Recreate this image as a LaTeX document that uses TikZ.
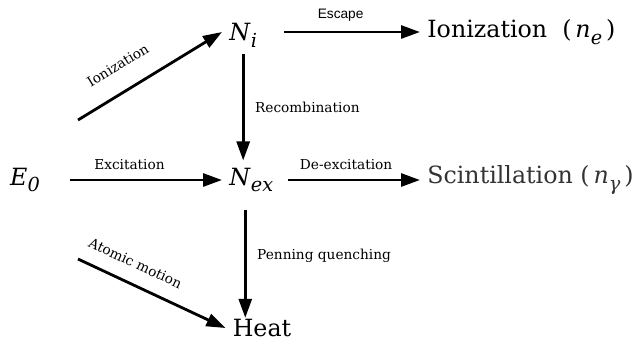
\documentclass[tikz,border=0pt]{standalone}
\usepackage{fontspec}
\setmainfont{DejaVu Serif}
\newfontfamily\escfont{Liberation Sans}
\usetikzlibrary{positioning, arrows.meta}

\newcommand{\qsym}[2]{\textit{#1}\raisebox{-0.55ex}{\fontsize{11}{13}\selectfont\textit{#2}}}

\begin{document}
\begin{tikzpicture}[x=0.02cm, y=-0.02cm,
  state/.style={inner sep=4pt, font=\fontsize{13.5}{16}\selectfont},
  flow/.style={-{Triangle[length=0.38cm, width=0.26cm]}, line width=1.6pt},
  lbl/.style={font=\fontsize{7.8}{9}\selectfont, inner sep=2pt}]
  \useasboundingbox (0,0) rectangle (637,343);

  \node[state, minimum width=1.8cm] (E0) at (25,180) {\qsym{E}{0}};
  \node[state, anchor=west] (Ni) at (222,35) {\qsym{N}{i}};
  \node[state, anchor=west] (Nex) at (222,180) {\qsym{N}{ex}};
  \node[state] (heat) at (262,328) {Heat};
  \node[state, anchor=west] (ion) at (420,32) {Ionization \ (\,\qsym{n}{e}\,)};
  \node[state, anchor=west, text=black!80] (scint) at (420,180) {Scintillation (\,\qsym{n}{γ}\,)};

  \coordinate (ionstart) at (78,120);
  \coordinate (atomstart) at (78,259);

  \draw[flow] (ionstart) -- node[lbl, sloped, above=9pt, pos=0.37] {Ionization} ([yshift=0.06cm]Ni.west);
  \draw[flow, shorten <=0.4cm] (Ni.east |- ion.west) -- node[lbl, above=3pt, pos=0.49, font=\escfont\fontsize{7.8}{9}\selectfont] {Escape} (ion.west);
  \draw[flow] (Ni.south) -- node[lbl, right=4pt] {Recombination} (Ni.south |- Nex.north);
  \draw[flow] (E0.east) -- node[lbl, above=3pt, pos=0.39] {Excitation} (Nex.west);
  \draw[flow, shorten <=0.14cm] (Nex.east) -- node[lbl, above=3pt, pos=0.47] {De-excitation} (scint.west);
  \draw[flow, shorten <=0.2cm, shorten >=-0.12cm] ([xshift=-0.12cm]Nex.south) -- node[lbl, right=4pt] {Penning quenching} ([xshift=-0.12cm]Nex.south |- heat.north);
  \draw[flow] (atomstart) -- node[lbl, sloped, above=6pt, pos=0.33] {Atomic motion} (heat.west);
\end{tikzpicture}
\end{document}
